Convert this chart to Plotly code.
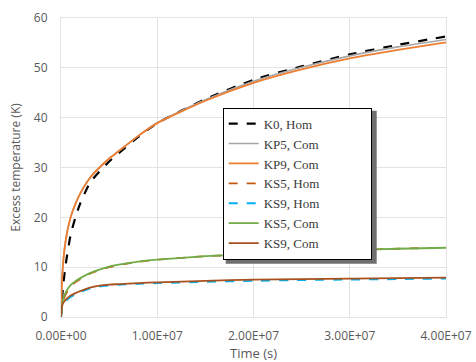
import plotly.graph_objects as go

time_s = [0, 1e5, 2.5e5, 5e5, 1e6, 1.5e6, 2e6, 3e6, 4e6, 5e6, 6e6, 8e6, 1e7,
          1.5e7, 2e7, 2.5e7, 3e7, 3.5e7, 4e7]

k0_hom  = [0, 3.5, 6.8, 10.7, 16.5, 20.0, 22.8, 26.9, 29.2, 31.2, 32.9, 36.1, 38.9,
           43.7, 47.6, 50.3, 52.7, 54.6, 56.3]
kp5_com = [0, 7.0, 11.5, 15.5, 20.0, 22.7, 24.8, 27.9, 30.0, 31.8, 33.3, 36.3, 39.0,
           43.6, 47.3, 50.1, 52.4, 54.2, 55.7]
kp9_com = [0, 7.0, 11.5, 15.5, 20.0, 22.7, 24.8, 27.9, 30.0, 31.8, 33.3, 36.3, 38.9,
           43.4, 47.0, 49.7, 51.9, 53.6, 55.1]
ks5_hom = [0, 2.0, 3.3, 4.6, 6.1, 7.0, 7.6, 8.7, 9.4, 10.0, 10.45, 11.05, 11.5,
           12.2, 12.6, 13.0, 13.4, 13.7, 13.9]
ks9_hom = [0, 1.6, 2.5, 3.2, 4.0, 4.6, 5.0, 5.7, 6.1, 6.3, 6.45, 6.65, 6.8,
           7.05, 7.25, 7.4, 7.5, 7.6, 7.7]
ks5_com = [0, 2.5, 3.8, 5.0, 6.4, 7.2, 7.8, 8.8, 9.5, 10.1, 10.5, 11.1, 11.5,
           12.2, 12.6, 13.0, 13.4, 13.7, 13.9]
ks9_com = [0, 2.1, 2.9, 3.5, 4.3, 4.8, 5.2, 5.9, 6.3, 6.5, 6.6, 6.8, 6.95,
           7.25, 7.5, 7.6, 7.7, 7.8, 7.9]

x_ticks = [0, 1e7, 2e7, 3e7, 4e7]
x_tick_labels = ["0.00E+00", "1.00E+07", "2.00E+07", "3.00E+07", "4.00E+07"]

series = [
    ("K0, Hom", k0_hom, "#000000", "dash", 2.2),
    ("KP5, Com", kp5_com, "#A5A5A5", "solid", 1.6),
    ("KP9, Com", kp9_com, "#ED7D31", "solid", 1.8),
    ("KS5, Hom", ks5_hom, "#C55A11", "dash", 1.8),
    ("KS9, Hom", ks9_hom, "#00B0F0", "dash", 1.8),
    ("KS5, Com", ks5_com, "#70AD47", "solid", 1.8),
    ("KS9, Com", ks9_com, "#A8501E", "solid", 1.8),
]

PAD = "\u00a0" * 14

fig = go.Figure()
for name, vals, color, dash, w in series:
    fig.add_trace(go.Scatter(
        x=time_s, y=vals, mode="lines", name=name + PAD,
        line=dict(color=color, dash=dash, width=w, shape="spline", smoothing=0.6),
    ))

grid = "#E3E3E3"
tick_font = dict(family="Open Sans", size=12, color="#595959")

# legend placement (paper coords) and its drop shadow
plot_w, plot_h = 385, 299
lx0, ly1 = 0.42, 0.70
lw, lh = 151 / plot_w, 153 / plot_h
fig.add_shape(type="rect", xref="paper", yref="paper",
              x0=lx0 + 3 / plot_w, x1=lx0 + lw + 3 / plot_w,
              y0=ly1 - lh - 3 / plot_h, y1=ly1 - 3 / plot_h,
              fillcolor="#6F6F6F", line=dict(width=0), layer="above")

fig.update_layout(
    width=476, height=362,
    margin=dict(l=61, r=30, t=18, b=45, autoexpand=False),
    paper_bgcolor="white", plot_bgcolor="white",
    showlegend=True,
    legend=dict(
        x=lx0, y=ly1, xanchor="left", yanchor="top",
        bgcolor="white", bordercolor="#000000", borderwidth=1,
        font=dict(family="Liberation Serif", size=13, color="#3A3A3A"),
        tracegroupgap=0, itemwidth=30,
    ),
    xaxis=dict(
        range=[0, 4e7], tickvals=x_ticks, ticktext=x_tick_labels,
        showgrid=True, gridcolor=grid, gridwidth=1, zeroline=False,
        showline=True, linecolor=grid, mirror=True, ticks="",
        tickfont=tick_font, ticklabelstandoff=8, automargin=False,
        title=dict(text="Time (s)", font=dict(family="Open Sans", size=13, color="#595959"), standoff=6),
    ),
    yaxis=dict(
        range=[0, 60], dtick=10,
        showgrid=True, gridcolor=grid, gridwidth=1, zeroline=False,
        showline=True, linecolor=grid, mirror=True, ticks="",
        tickfont=tick_font, ticklabelstandoff=10, automargin=False,
        title=dict(text="Excess temperature (K)", font=dict(family="Open Sans", size=12, color="#595959"), standoff=10),
    ),
)

fig.write_html("out.html")
